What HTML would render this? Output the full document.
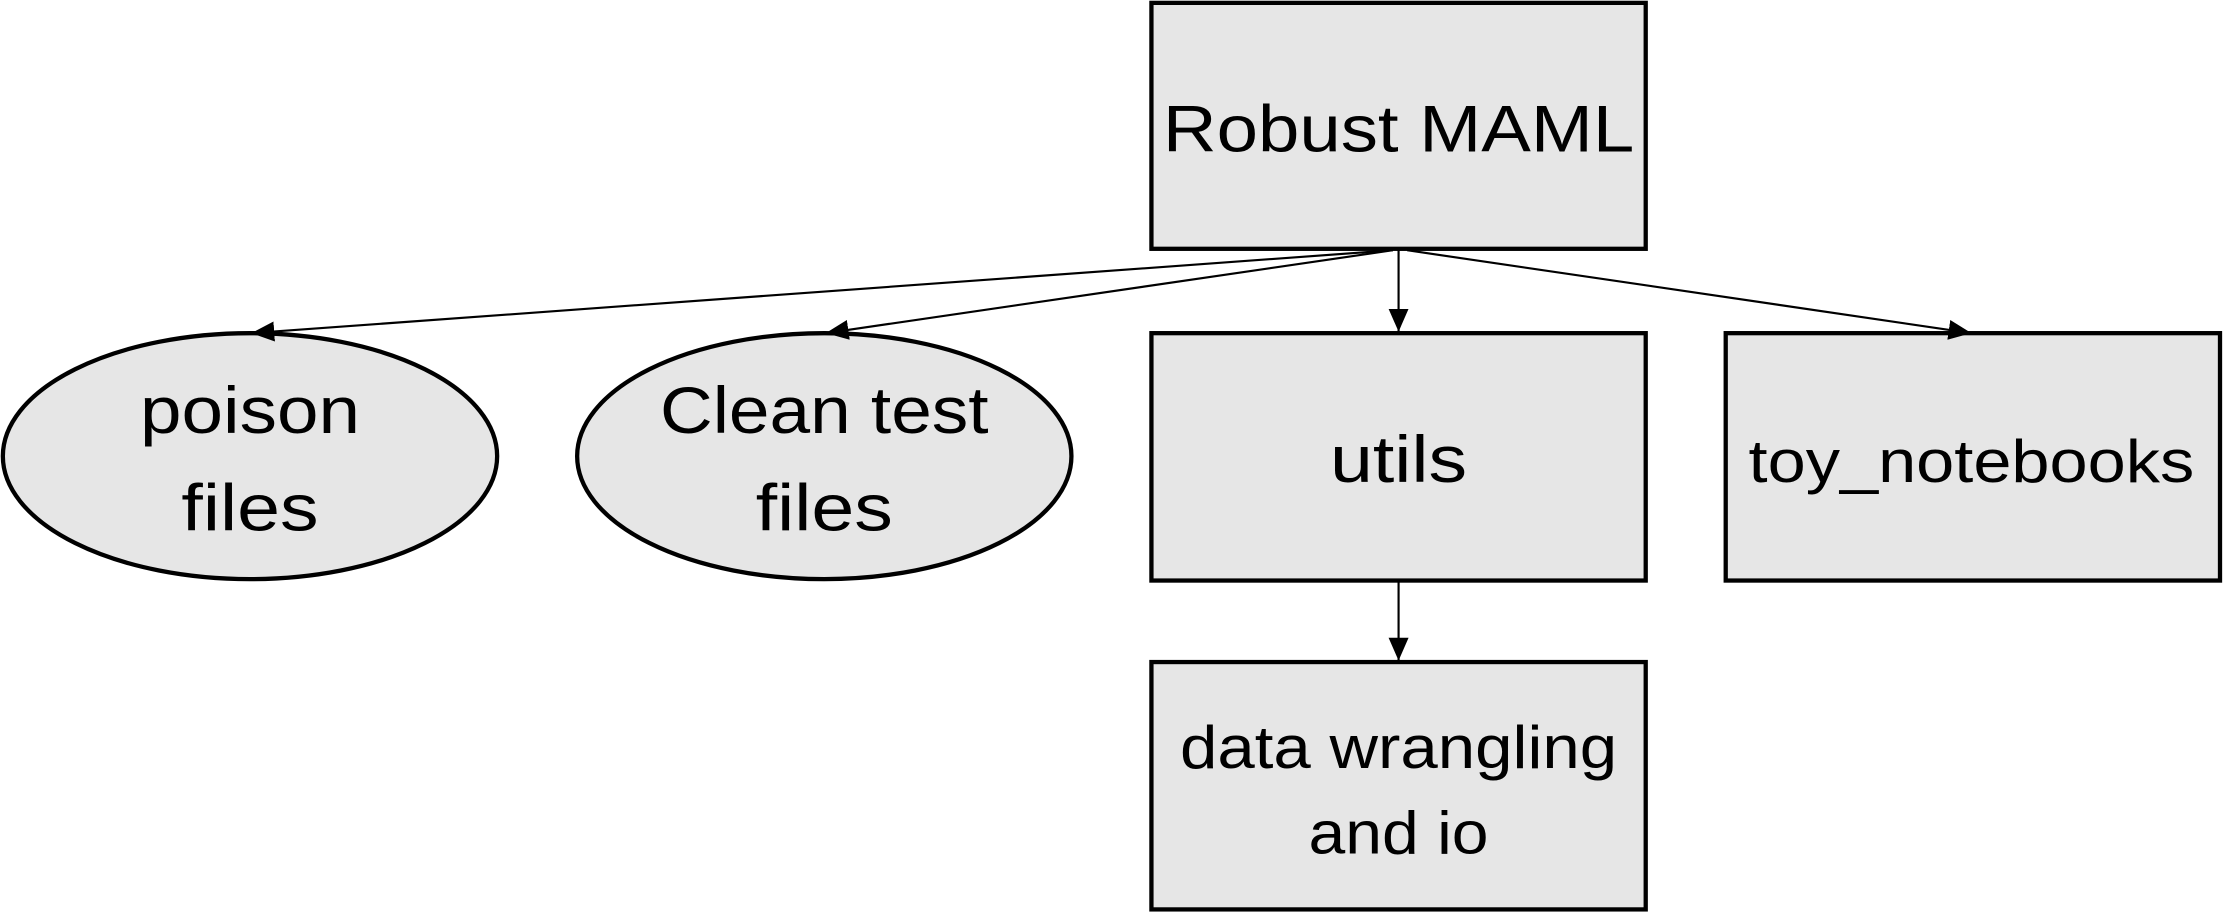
<!DOCTYPE html>
<html><head><style>html,body{margin:0;padding:0;background:#fff;}svg{display:block}</style></head>
<body>
<svg width="2240" height="918" viewBox="0 0 1568 642" preserveAspectRatio="none" xmlns="http://www.w3.org/2000/svg">
<defs><marker id="a" markerWidth="10" markerHeight="10" refX="9" refY="5" orient="auto" markerUnits="userSpaceOnUse"><path d="M0,0 L10,5 L0,10 z" fill="#000"/></marker>
<marker id="b" markerWidth="16" markerHeight="16" refX="16" refY="8" orient="auto" markerUnits="userSpaceOnUse"><path d="M0,1 L16,8 L0,15 z" fill="#000"/></marker></defs>
<g fill="#e6e6e6" stroke="#000" stroke-width="3">
<rect x="806" y="2" width="346" height="172"/>
<rect x="806" y="233" width="346" height="173"/>
<rect x="1208" y="233" width="346" height="173"/>
<rect x="806" y="463" width="346" height="173"/>
<ellipse cx="175" cy="319" rx="173" ry="86"/>
<ellipse cx="577" cy="319" rx="173" ry="86"/>
</g>
<g stroke="#000" stroke-width="1.5" fill="none">
<line x1="975" y1="175" x2="176" y2="233" marker-end="url(#b)"/>
<line x1="975" y1="175" x2="578" y2="233" marker-end="url(#b)"/>
<line x1="979" y1="175" x2="979" y2="232" marker-end="url(#b)"/>
<line x1="985" y1="175" x2="1380" y2="233" marker-end="url(#b)"/>
<line x1="979" y1="406" x2="979" y2="462" marker-end="url(#b)"/>
</g>
<g font-family="Liberation Sans, sans-serif" font-size="46" text-anchor="middle" fill="#000">
<text x="979" y="106" textLength="330" lengthAdjust="spacingAndGlyphs">Robust MAML</text>
<text x="979" y="337" textLength="96" lengthAdjust="spacingAndGlyphs">utils</text>
<text x="1380" y="337" font-size="42" textLength="312" lengthAdjust="spacingAndGlyphs">toy_notebooks</text>
<text x="175" y="303" textLength="154" lengthAdjust="spacingAndGlyphs">poison</text>
<text x="175" y="371" textLength="96" lengthAdjust="spacingAndGlyphs">files</text>
<text x="577" y="303" textLength="230" lengthAdjust="spacingAndGlyphs">Clean test</text>
<text x="577" y="371" textLength="96" lengthAdjust="spacingAndGlyphs">files</text>
<text x="979" y="537" font-size="42" textLength="306" lengthAdjust="spacingAndGlyphs">data wrangling</text>
<text x="979" y="597" font-size="42" textLength="126" lengthAdjust="spacingAndGlyphs">and io</text>
</g>
</svg>
</body></html>
